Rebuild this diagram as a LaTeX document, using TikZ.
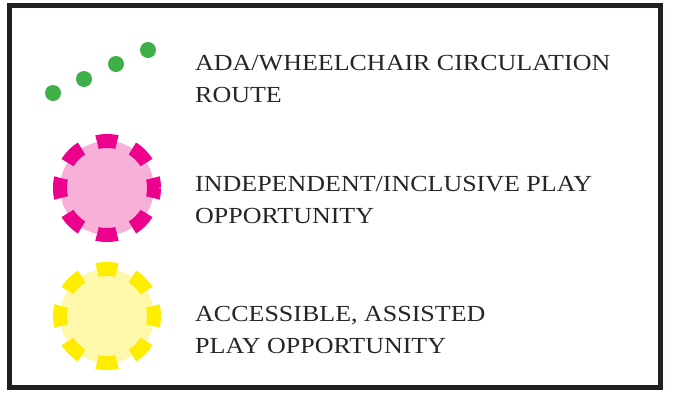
\documentclass[tikz,border=0pt]{standalone}
\usepackage{fontspec}
\setmainfont[FakeStretch=1.13]{Liberation Serif}
\usepackage{tikz}

\definecolor{routegreen}{RGB}{62,175,73}
\definecolor{playpink}{RGB}{236,0,140}
\definecolor{playpinklight}{RGB}{247,176,216}
\definecolor{playyellow}{RGB}{255,237,0}
\definecolor{playyellowlight}{RGB}{255,247,170}
\definecolor{framegray}{RGB}{35,31,32}

\begin{document}
\begin{tikzpicture}[x=1pt,y=-1pt,
    legendtext/.style={anchor=base west,align=left,inner sep=0pt,
      font=\fontsize{23}{32}\selectfont,text=black!85},
    routedot/.style={fill=routegreen,circle,inner sep=0pt,minimum size=16pt},
    playring/.style={line width=14pt,dash pattern=on 20pt off 16.9pt,dash phase=10pt}]
          \useasboundingbox (0,0) rectangle (679,392);
          \draw[framegray,line width=5pt] (9.5,5.5) rectangle (660.5,387.5);
          % route dots
          \node[routedot] (d1) at (53,93) {};
          \node[routedot] (d2) at (84,79) {};
          \node[routedot] (d3) at (116,64) {};
          \node[routedot] (d4) at (148,50) {};
          % play symbols
          \fill[playpinklight] (107,188) circle (47);
          \draw[playpink,playring] (107,188) circle (47);
          \fill[playyellowlight] (107,316) circle (47);
          \draw[playyellow,playring] (107,316) circle (47);
          % labels (base = last line)
          \node[legendtext] (route) at (195,102) {ADA/WHEELCHAIR CIRCULATION\\ROUTE};
          \node[legendtext] (indep) at (195,223) {INDEPENDENT/INCLUSIVE PLAY\\OPPORTUNITY};
          \node[legendtext] (assist) at (195,353) {ACCESSIBLE, ASSISTED\\PLAY OPPORTUNITY};
        \end{tikzpicture}
\end{document}
